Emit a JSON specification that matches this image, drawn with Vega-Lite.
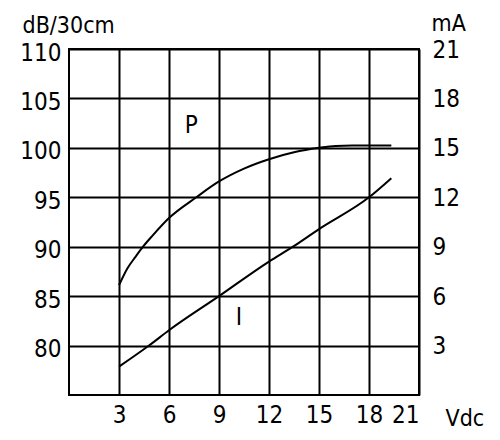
{
  "$schema": "https://vega.github.io/schema/vega-lite/v6.json",
  "autosize": {"type": "none"},
  "padding": {"left": 69, "top": 49, "right": 81, "bottom": 45},
  "width": 350,
  "height": 346,
  "background": "white",
  "config": {
    "view": {"stroke": "black", "strokeWidth": 2},
    "font": "DejaVu Sans Condensed, Liberation Sans Narrow, sans-serif",
    "axis": {
      "labelFont": "DejaVu Sans Condensed, Liberation Sans Narrow, sans-serif",
      "titleFont": "DejaVu Sans Condensed, Liberation Sans Narrow, sans-serif",
      "labelFontSize": 24,
      "titleFontSize": 23,
      "titleFontWeight": "normal",
      "labelColor": "black",
      "titleColor": "black",
      "domain": false,
      "ticks": false,
      "gridColor": "black",
      "gridWidth": 2,
      "gridOpacity": 1
    }
  },
  "datasets": {
    "curves": [
      {"s": "P", "x": 3, "v": 86.1},
      {"s": "P", "x": 3.5, "v": 87.8},
      {"s": "P", "x": 4, "v": 89.0},
      {"s": "P", "x": 4.44, "v": 90.0},
      {"s": "P", "x": 5, "v": 91.1},
      {"s": "P", "x": 6, "v": 92.9},
      {"s": "P", "x": 7.64, "v": 95.0},
      {"s": "P", "x": 9, "v": 96.6},
      {"s": "P", "x": 10.5, "v": 97.9},
      {"s": "P", "x": 12, "v": 98.85},
      {"s": "P", "x": 13.5, "v": 99.55},
      {"s": "P", "x": 15, "v": 100.0},
      {"s": "P", "x": 16, "v": 100.2},
      {"s": "P", "x": 17, "v": 100.25},
      {"s": "P", "x": 18, "v": 100.25},
      {"s": "P", "x": 19.34, "v": 100.25},
      {"s": "I", "x": 3, "v": 1.72},
      {"s": "I", "x": 4.8, "v": 3.0},
      {"s": "I", "x": 6, "v": 3.93},
      {"s": "I", "x": 9, "v": 6.0},
      {"s": "I", "x": 12, "v": 8.1},
      {"s": "I", "x": 13.44, "v": 9.0},
      {"s": "I", "x": 15, "v": 10.07},
      {"s": "I", "x": 18, "v": 12.0},
      {"s": "I", "x": 19.34, "v": 13.16}
    ],
    "labels": [
      {"t": "P", "x": 7.34, "v": 102.2},
      {"t": "I", "x": 10.2, "v": 82.8}
    ]
  },
  "encoding": {
    "x": {
      "field": "x",
      "type": "quantitative",
      "scale": {"domain": [0, 21], "nice": false, "zero": false},
      "axis": {
        "orient": "bottom",
        "values": [3, 6, 9, 12, 15, 18, 21],
        "grid": true,
        "labelPadding": 8,
        "title": "Vdc",
        "titleAlign": "left",
        "titleAnchor": "start",
        "titleBaseline": "alphabetic",
        "titleX": 376,
        "titleY": 30
      }
    }
  },
  "layer": [
    {
      "data": {"name": "curves"},
      "transform": [{"filter": "datum.s === 'P'"}],
      "mark": {"type": "line", "color": "black", "strokeWidth": 2, "interpolate": "monotone"},
      "encoding": {
        "y": {
          "field": "v",
          "type": "quantitative",
          "scale": {"domain": [75, 110], "nice": false, "zero": false},
          "axis": {
            "orient": "left",
            "values": [80, 85, 90, 95, 100, 105, 110],
            "grid": true,
            "labelPadding": 8,
            "labelOffset": 4,
            "title": "dB/30cm",
            "titleAngle": 0,
            "titleAlign": "left",
            "titleAnchor": "start",
            "titleBaseline": "alphabetic",
            "titleX": -47,
            "titleY": -17
          }
        }
      }
    },
    {
      "data": {"name": "curves"},
      "transform": [{"filter": "datum.s === 'I'"}],
      "mark": {"type": "line", "color": "black", "strokeWidth": 2, "interpolate": "monotone"},
      "encoding": {
        "y": {
          "field": "v",
          "type": "quantitative",
          "scale": {"domain": [0, 21], "nice": false, "zero": false},
          "axis": {
            "orient": "right",
            "values": [3, 6, 9, 12, 15, 18, 21],
            "grid": false,
            "labelPadding": 13,
            "labelOffset": 1,
            "title": "mA",
            "titleAngle": 0,
            "titleAlign": "left",
            "titleAnchor": "start",
            "titleBaseline": "alphabetic",
            "titleX": 12,
            "titleY": -19
          }
        }
      }
    },
    {
      "data": {"name": "labels"},
      "mark": {"type": "text", "fontSize": 24, "color": "black", "font": "DejaVu Sans Condensed, Liberation Sans Narrow, sans-serif"},
      "encoding": {
        "text": {"field": "t"},
        "y": {
          "field": "v",
          "type": "quantitative",
          "scale": {"domain": [75, 110], "nice": false, "zero": false},
          "axis": null
        }
      }
    }
  ],
  "resolve": {"scale": {"y": "independent"}}
}
